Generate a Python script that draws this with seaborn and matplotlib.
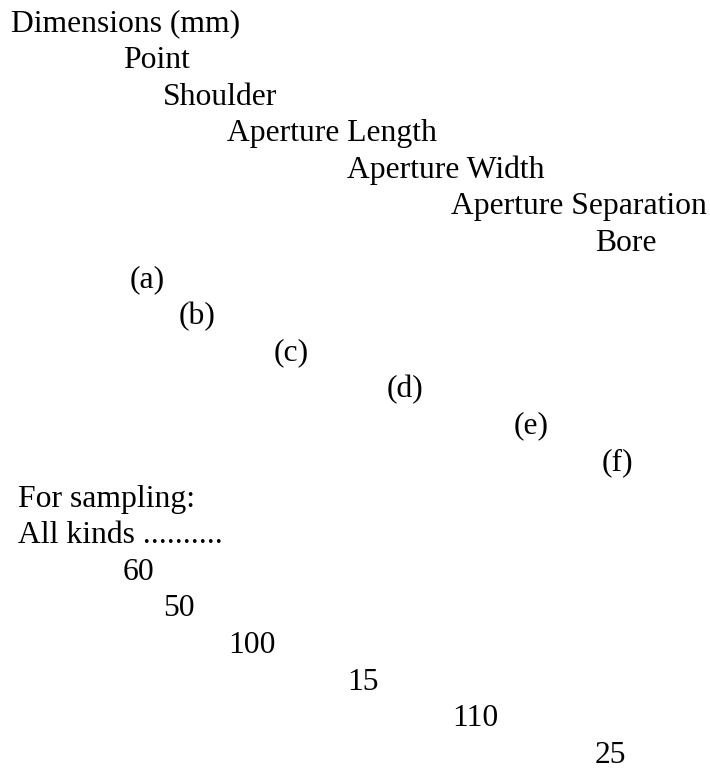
import seaborn as sns
import matplotlib
matplotlib.use("Agg")
import matplotlib.pyplot as plt

# --- data (text of the table) ---
header_labels = ["Dimensions (mm)", "Point", "Shoulder", "Aperture Length",
                 "Aperture Width", "Aperture Separation", "Bore"]
part_labels = ["(a)", "(b)", "(c)", "(d)", "(e)", "(f)"]
sampling_title = "For sampling:"
sampling_kind = "All kinds .........."
sample_sizes = [60, 50, 100, 15, 110, 25]

# --- layout (pixels, top-left origin) ---
header_x = [11, 123, 163, 227, 347, 451, 595]
part_x = [130, 179, 274, 387, 514, 602]
sample_x = [123, 163, 228, 347, 452, 595]
first_baseline = 31.6
line_step = 36.55

sns.set_theme(style="white")
plt.rcParams["font.family"] = ["Liberation Serif", "DejaVu Serif"]

fig = plt.figure(figsize=(7.10, 7.71), dpi=100)
ax = fig.add_axes([0, 0, 1, 1])
ax.set_xlim(0, 710)
ax.set_ylim(771, 0)
ax.axis("off")

# one text per row, stepping down the page
rows = []
for label, x in zip(header_labels, header_x):
    rows.append((label, x))
for label, x in zip(part_labels, part_x):
    rows.append((label, x))
rows.append((sampling_title, 18))
rows.append((sampling_kind, 18))
for val, x in zip(sample_sizes, sample_x):
    rows.append((str(val), x))

for i, (txt, x) in enumerate(rows):
    ax.text(x, first_baseline + i * line_step, txt, ha="left", va="baseline",
            fontsize=22.8, color="black")

fig.savefig("out.png", dpi=100, facecolor="white")
